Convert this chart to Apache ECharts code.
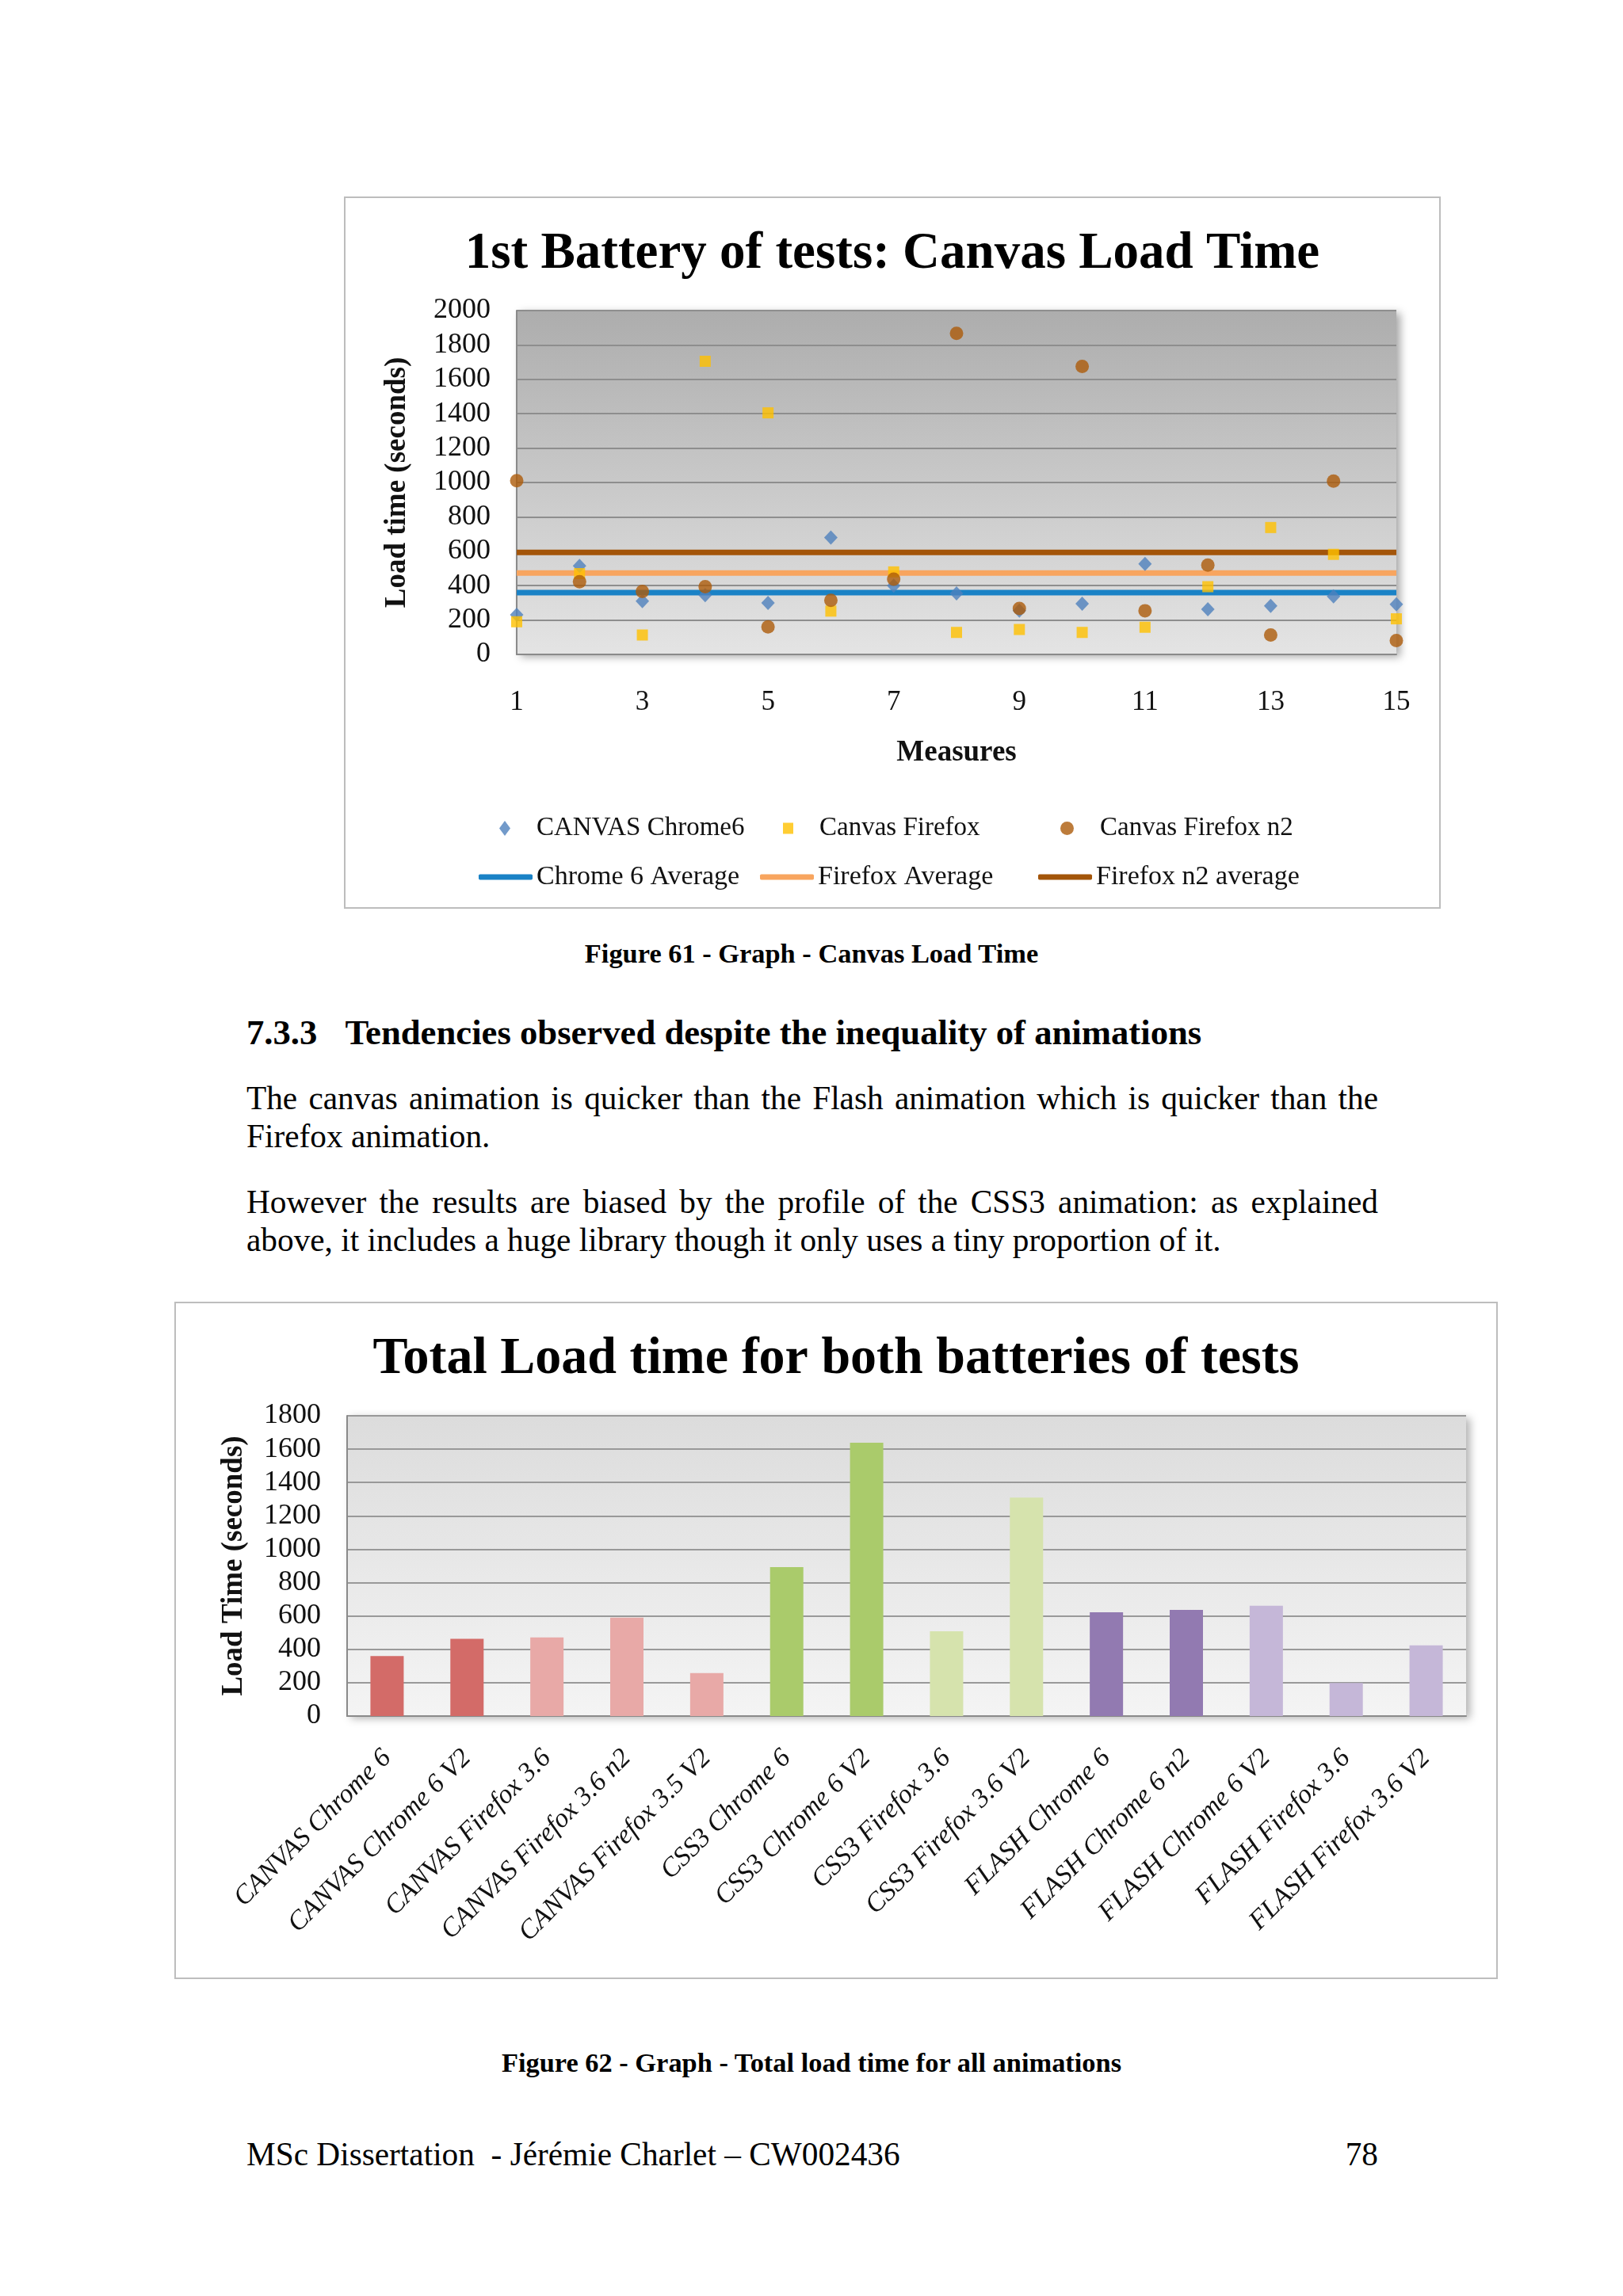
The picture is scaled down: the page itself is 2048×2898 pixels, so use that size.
<!DOCTYPE html>
<html>
<head>
<meta charset="utf-8">
<script src="https://cdn.jsdelivr.net/npm/echarts@6/dist/echarts.min.js"></script>
<style>
html,body{margin:0;padding:0;background:#fff;}
body{width:2048px;height:2898px;position:relative;overflow:hidden;font-family:"Liberation Serif","Times New Roman",serif;color:#000;}
.box{position:absolute;box-sizing:border-box;border:2px solid #bdbdbd;background:#fff;}
.cap{position:absolute;left:0;width:2048px;text-align:center;font-weight:bold;font-size:34.4px;line-height:38px;}
.h{position:absolute;left:311px;font-weight:bold;font-size:44.7px;line-height:48px;white-space:nowrap;}
.p{position:absolute;left:311px;width:1428px;font-size:41.3px;line-height:48px;text-align:justify;}
.foot{position:absolute;font-size:41.3px;line-height:44px;white-space:nowrap;}
</style>
</head>
<body>
<div id="c1" class="box" style="left:434px;top:248px;width:1384px;height:899px;"></div>
<div class="cap" style="top:1184px;">Figure 61 - Graph - Canvas Load Time</div>
<div class="h" style="top:1279px;">7.3.3<span style="display:inline-block;width:35px;"></span>Tendencies observed despite the inequality of animations</div>
<div class="p" style="top:1362px;">The canvas animation is quicker than the Flash animation which is quicker than the Firefox animation.</div>
<div class="p" style="top:1493px;">However the results are biased by the profile of the CSS3 animation: as explained above, it includes a huge library though it only uses a tiny proportion of it.</div>
<div id="c2" class="box" style="left:220px;top:1643px;width:1670px;height:855px;"></div>
<div class="cap" style="top:2584px;">Figure 62 - Graph - Total load time for all animations</div>
<div class="foot" style="left:311px;top:2697px;">MSc Dissertation&nbsp; - Jérémie Charlet – CW002436</div>
<div class="foot" style="right:309px;top:2697px;">78</div>
<script>
// ---------- Chart 1 data ----------
const MEASURES = [1,2,3,4,5,6,7,8,9,10,11,12,13,14,15];
const CANVAS_CHROME6 = [230,515,310,345,300,680,400,355,255,295,526,263,282,338,291];
const CANVAS_FIREFOX = [190,470,113,1705,1405,252,480,128,145,128,158,394,738,582,207];
const CANVAS_FIREFOX_N2 = [1010,423,366,394,160,315,438,1867,267,1675,254,520,113,1008,81];
const CHROME6_AVERAGE = 359;
const FIREFOX_AVERAGE = 473;
const FIREFOX_N2_AVERAGE = 593;
const Y1_MIN = 0, Y1_MAX = 2000, Y1_STEP = 200;
const X1_MIN = 1, X1_MAX = 15, X1_STEP = 2;

// ---------- Chart 2 data ----------
const TEST_NAMES = ['CANVAS Chrome 6','CANVAS Chrome 6 V2','CANVAS Firefox 3.6','CANVAS Firefox 3.6 n2','CANVAS Firefox 3.5 V2','CSS3 Chrome 6','CSS3 Chrome 6 V2','CSS3 Firefox 3.6','CSS3 Firefox 3.6 V2','FLASH Chrome 6','FLASH Chrome 6 n2','FLASH Chrome 6 V2','FLASH Firefox 3.6','FLASH Firefox 3.6 V2'];
const TOTAL_LOAD_TIME = [360,463,471,590,258,893,1639,508,1310,622,636,661,198,424];
const Y2_MIN = 0, Y2_MAX = 1800, Y2_STEP = 200;

// ---------- styles ----------
const BAR_COLORS = ['#d36b68','#d36b68','#e8a9a7','#e8a9a7','#e8a9a7','#aacb6b','#aacb6b','#d6e3ad','#d6e3ad','#927ab1','#927ab1','#c5b7d8','#c5b7d8','#c5b7d8'];
const FONT = '"Liberation Serif", "Times New Roman", serif';

function pairs(xs, ys){ return xs.map((x,i)=>[x, ys[i]]); }
function flat(v){ return [[MEASURES[0], v],[MEASURES[MEASURES.length-1], v]]; }
function plain(v){ return String(v); }

const c1 = echarts.init(document.getElementById('c1'), null, {renderer:'canvas'});
const lt = {fontFamily:FONT,fontSize:34,color:'#111'};
const lts = {fontFamily:FONT,fontSize:33,color:'#111',padding:[0,0,0,28]};
c1.setOption({
  animation:false,
  title:{text:'1st Battery of tests: Canvas Load Time', left:'center', top:34,
    textStyle:{fontFamily:FONT,fontSize:65,fontWeight:'bold',color:'#000'}},
  grid:{left:216,top:142,width:1110,height:434,show:true,borderWidth:0,
    backgroundColor:new echarts.graphic.LinearGradient(0,0,0,1,[{offset:0,color:'#adadad'},{offset:1,color:'#e4e4e4'}]),
    shadowBlur:10,shadowColor:'rgba(0,0,0,0.35)',shadowOffsetX:5,shadowOffsetY:3},
  xAxis:{type:'value',min:X1_MIN,max:X1_MAX,interval:X1_STEP,
    name:'Measures',nameLocation:'middle',nameGap:106,
    nameTextStyle:{fontFamily:FONT,fontSize:37,fontWeight:'bold',color:'#111'},
    axisLine:{lineStyle:{color:'#8a8a8a',width:2}},axisTick:{show:false},
    axisLabel:{fontFamily:FONT,fontSize:35,color:'#111',margin:43,formatter:plain},
    splitLine:{show:false}},
  yAxis:{type:'value',min:Y1_MIN,max:Y1_MAX,interval:Y1_STEP,
    name:'Load time (seconds)',nameLocation:'middle',nameGap:132,nameRotate:90,
    nameTextStyle:{fontFamily:FONT,fontSize:37,fontWeight:'bold',color:'#111'},
    axisLine:{show:true,lineStyle:{color:'#8a8a8a',width:2}},axisTick:{show:false},
    axisLabel:{fontFamily:FONT,fontSize:36,color:'#111',margin:33,formatter:plain},
    splitLine:{lineStyle:{color:'#8e8e8e',width:2}}},
  legend:[
    {data:[{name:'CANVAS Chrome6',icon:'diamond'}],left:189,top:774,itemWidth:14,itemHeight:19,textStyle:lts,selectedMode:false},
    {data:[{name:'Canvas Firefox',icon:'rect'}],left:547,top:774,itemWidth:13,itemHeight:14,textStyle:lts,selectedMode:false},
    {data:[{name:'Canvas Firefox n2',icon:'circle'}],left:897,top:774,itemWidth:17,itemHeight:17,textStyle:lts,selectedMode:false},
    {data:[{name:'Chrome 6 Average',icon:'roundRect'}],left:163,top:835,itemWidth:68,itemHeight:7,textStyle:lt,selectedMode:false},
    {data:[{name:'Firefox Average',icon:'roundRect'}],left:518,top:835,itemWidth:68,itemHeight:7,textStyle:lt,selectedMode:false},
    {data:[{name:'Firefox n2 average',icon:'roundRect'}],left:869,top:835,itemWidth:68,itemHeight:7,textStyle:lt,selectedMode:false}
  ],
  series:[
    {name:'Chrome 6 Average',type:'line',data:flat(CHROME6_AVERAGE),symbol:'none',z:1,
      lineStyle:{color:'#1a82c6',width:7},itemStyle:{color:'#1a82c6'}},
    {name:'Firefox Average',type:'line',data:flat(FIREFOX_AVERAGE),symbol:'none',z:1,
      lineStyle:{color:'#f8a55f',width:7},itemStyle:{color:'#f8a55f'}},
    {name:'Firefox n2 average',type:'line',data:flat(FIREFOX_N2_AVERAGE),symbol:'none',z:1,
      lineStyle:{color:'#a3550a',width:7},itemStyle:{color:'#a3550a'}},
    {name:'CANVAS Chrome6',type:'scatter',data:pairs(MEASURES,CANVAS_CHROME6),symbol:'diamond',symbolSize:[17,18],clip:false,z:3,
      itemStyle:{color:'#4f81bd'}},
    {name:'Canvas Firefox',type:'scatter',data:pairs(MEASURES,CANVAS_FIREFOX),symbol:'rect',symbolSize:14,clip:false,z:3,
      itemStyle:{color:'#ffc000'}},
    {name:'Canvas Firefox n2',type:'scatter',data:pairs(MEASURES,CANVAS_FIREFOX_N2),symbol:'circle',symbolSize:17,clip:false,z:4,
      itemStyle:{color:'#ad5b0a'}}
  ]
});

const c2 = echarts.init(document.getElementById('c2'), null, {renderer:'canvas'});
c2.setOption({
  animation:false,
  title:{text:'Total Load time for both batteries of tests', left:'center', top:33,
    textStyle:{fontFamily:FONT,fontSize:66,fontWeight:'bold',color:'#000'}},
  grid:{left:216,top:142,width:1412,height:379,show:true,borderWidth:0,
    backgroundColor:new echarts.graphic.LinearGradient(0,0,0,1,[{offset:0,color:'#dcdcdc'},{offset:1,color:'#f4f4f4'}]),
    shadowBlur:10,shadowColor:'rgba(0,0,0,0.3)',shadowOffsetX:5,shadowOffsetY:3},
  xAxis:{type:'category',data:TEST_NAMES,
    axisLine:{lineStyle:{color:'#8a8a8a',width:2}},axisTick:{show:false},
    axisLabel:{fontFamily:FONT,fontSize:34,fontStyle:'italic',color:'#111',rotate:45,margin:48,interval:0}},
  yAxis:{type:'value',min:Y2_MIN,max:Y2_MAX,interval:Y2_STEP,
    name:'Load Time (seconds)',nameLocation:'middle',nameGap:124,nameRotate:90,
    nameTextStyle:{fontFamily:FONT,fontSize:37,fontWeight:'bold',color:'#111'},
    axisLine:{show:true,lineStyle:{color:'#8a8a8a',width:2}},axisTick:{show:false},
    axisLabel:{fontFamily:FONT,fontSize:36,color:'#111',margin:33,formatter:plain},
    splitLine:{lineStyle:{color:'#999999',width:2}}},
  series:[
    {name:'Total Load time',type:'bar',data:TOTAL_LOAD_TIME,barWidth:42,
      itemStyle:{color:function(p){return BAR_COLORS[p.dataIndex];}}}
  ]
});
</script>
</body>
</html>
